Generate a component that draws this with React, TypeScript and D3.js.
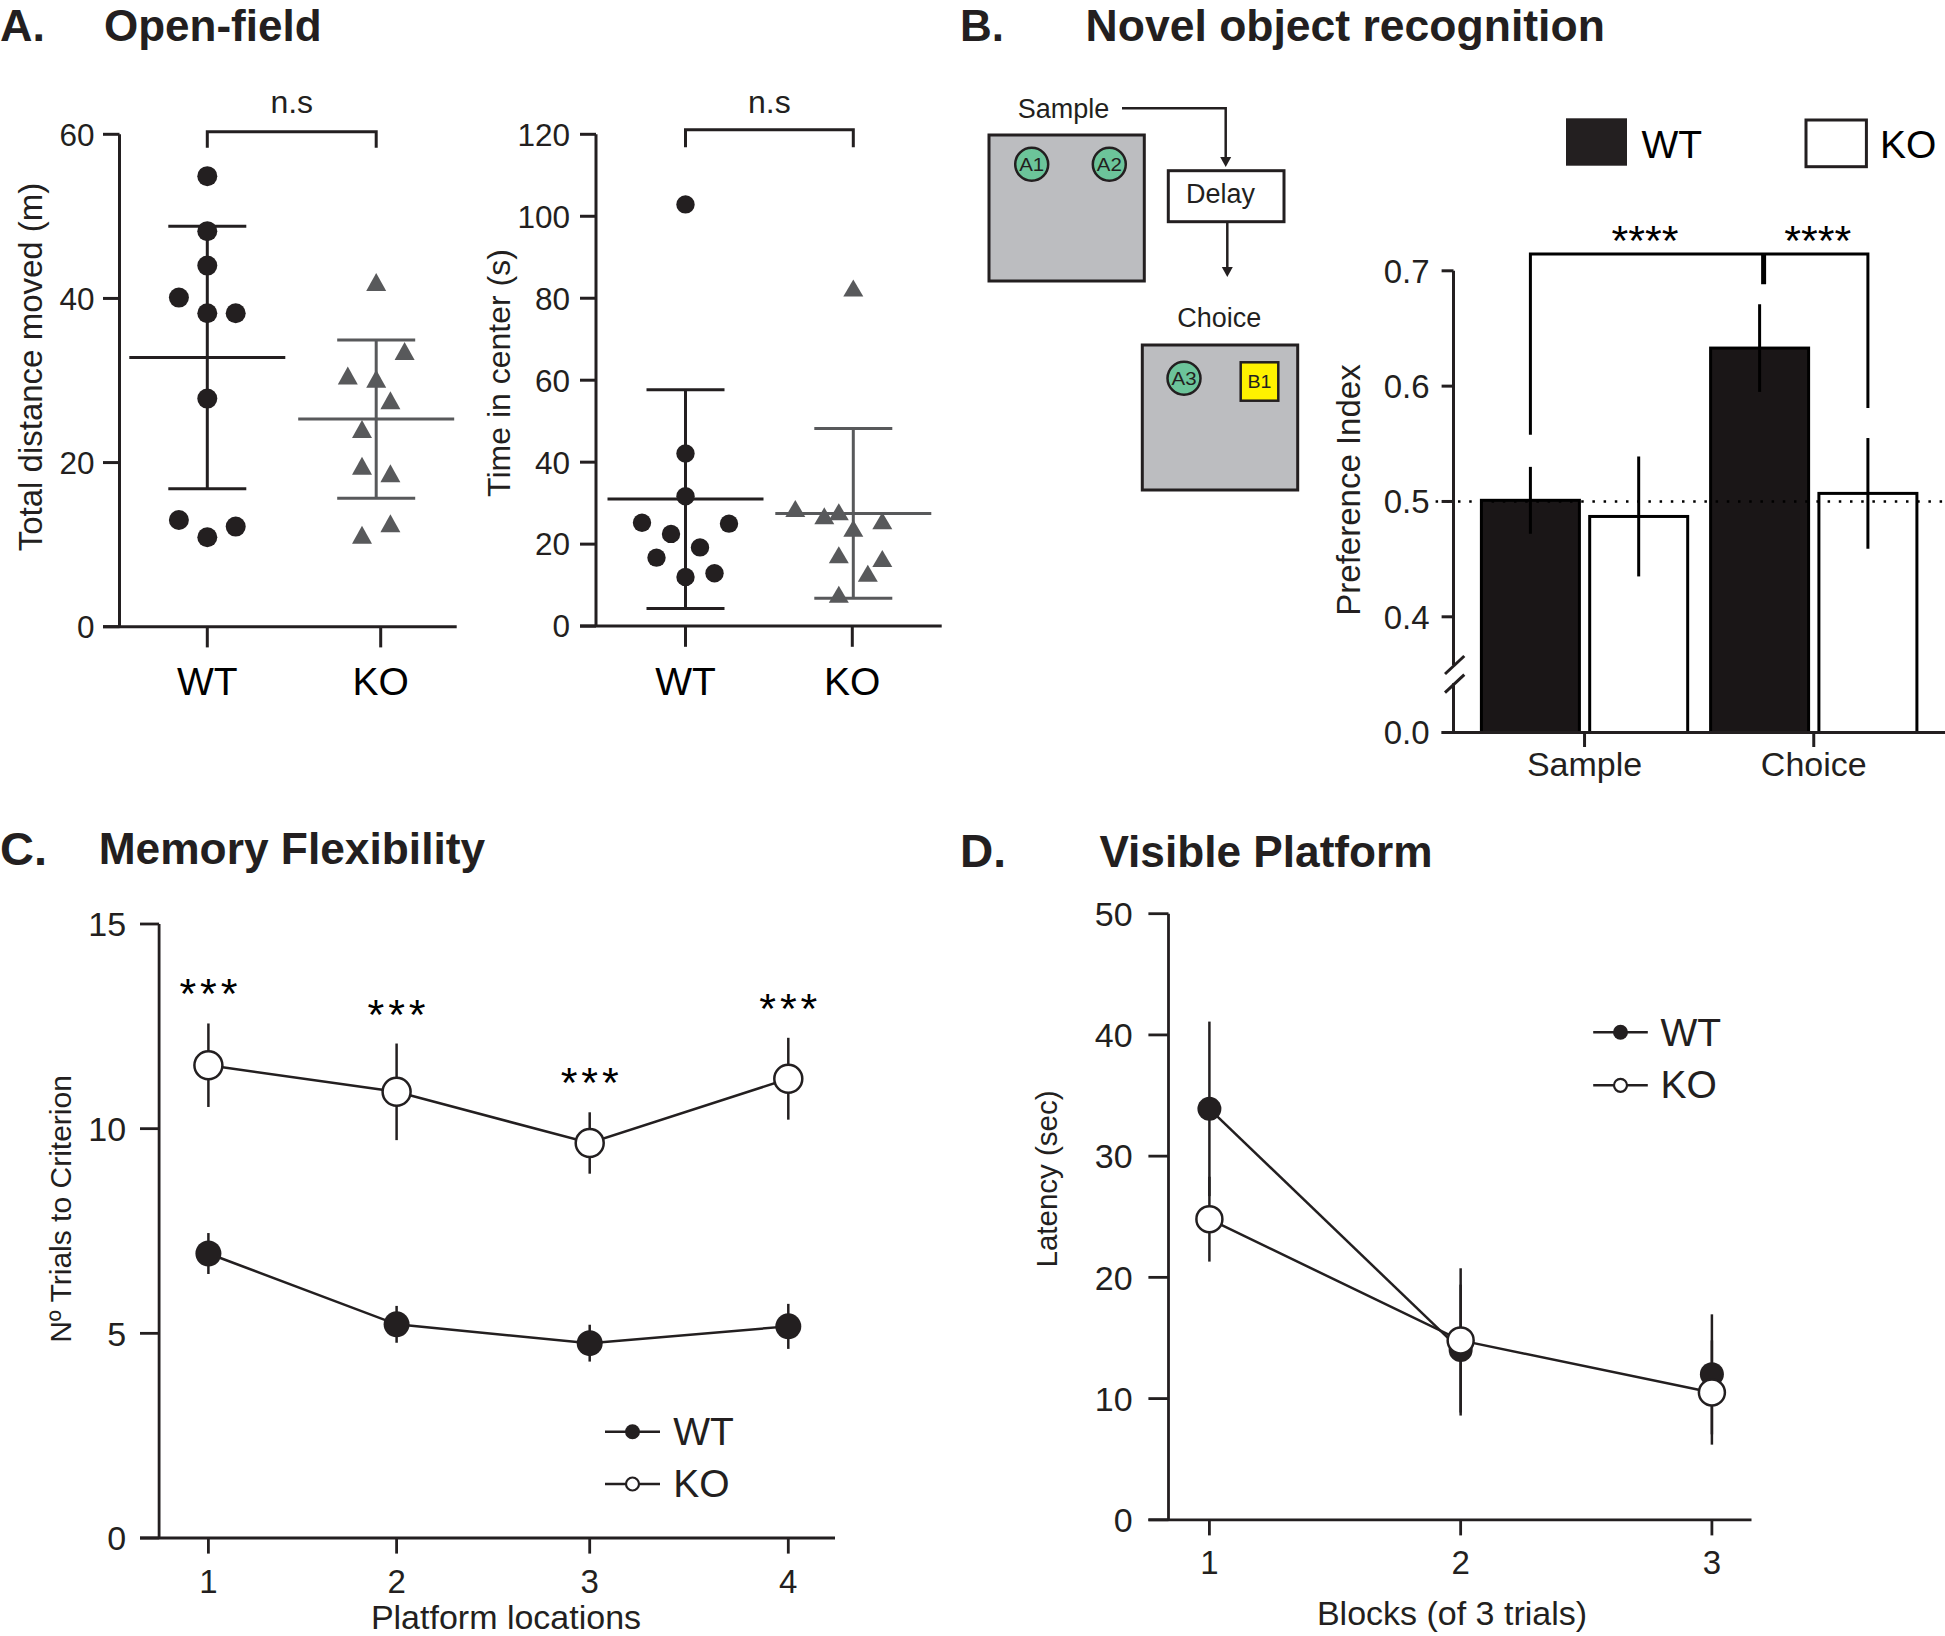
import React from "react";
import * as d3 from "d3";

const FONT = "'Liberation Sans', Arial, Helvetica, sans-serif";
const INK = "#231f20";
const GRAY = "#58595b";

// ---------------- data ----------------
const genotypes = ["WT", "KO"];

// A – open field: total distance moved (m)
const distanceWT = [54.9, 48.2, 44.0, 40.1, 38.2, 38.2, 27.8, 13.0, 10.9, 12.2];
const distanceWTCol = [0, 0, 0, -2, 0, 2, 0, -2, 0, 2];
const distanceKO = [42.0, 33.6, 30.6, 30.2, 27.6, 24.1, 19.6, 18.7, 12.6, 11.2];
const distanceKOCol = [0, 2, -2, 0, 1, -1, -1, 1, 1, -1];
const distanceMean = [32.8, 25.3];
const distanceSD = [16.0, 9.65];
const distanceTicks = [0, 20, 40, 60];

// A – open field: time in center (s)
const centerWT = [102.9, 42.1, 31.7, 25.2, 25.0, 22.5, 19.2, 16.7, 12.0, 12.9];
const centerWTCol = [0, 0, 0, -3, 3, -1, 1, -2, 0, 2];
const centerKO = [82.5, 28.7, 26.9, 27.9, 25.7, 23.9, 17.4, 16.5, 12.9, 7.8];
const centerKOCol = [0, -4, -2, -1, 2, 0, -1, 2, 1, -1];
const centerMean = [31.0, 27.5];
const centerSD = [26.7, 20.7];
const centerTicks = [0, 20, 40, 60, 80, 100, 120];

// B – novel object recognition
const phases = ["Sample", "Choice"];
const prefWT = [0.501, 0.633];
const prefWTSem = [0.029, 0.038];
const prefKO = [0.487, 0.507];
const prefKOSem = [0.052, 0.048];
const prefTicks = [0.0, 0.4, 0.5, 0.6, 0.7];
const chanceLevel = 0.5;

// C – memory flexibility
const locations = [1, 2, 3, 4];
const trialsWT = [6.95, 5.22, 4.76, 5.17];
const trialsWTSem = [0.5, 0.45, 0.45, 0.55];
const trialsKO = [11.55, 10.9, 9.65, 11.22];
const trialsKOSem = [1.02, 1.18, 0.75, 1.0];
const trialsTicks = [0, 5, 10, 15];
const trialsSig = ["***", "***", "***", "***"];

// D – visible platform
const blocks = [1, 2, 3];
const latencyWT = [33.9, 14.0, 12.0];
const latencyWTSem = [7.2, 5.4, 4.95];
const latencyKO = [24.8, 14.8, 10.5];
const latencyKOSem = [3.5, 5.95, 4.3];
const latencyWTLinkedBlocks = 2; // the WT connecting line is only drawn over blocks 1–2 in the original
const latencyTicks = [0, 10, 20, 30, 40, 50];

// ---------------- panel A ----------------
function Scatter({ wt, wtCol, ko, koCol, mean, sd, ticks, g }: any) {
  const yMax = ticks[ticks.length - 1];
  const y = d3.scaleLinear().domain([0, yMax]).range([g.y0, g.yTop]);
  const x = d3.scalePoint<string>().domain(genotypes).range([g.xWT, g.xKO]);
  const col = (k: string) => (x(k) as number) + (k === "KO" ? g.koShift : 0);
  const groups = [
    { k: "WT", color: INK },
    { k: "KO", color: GRAY },
  ];
  const sw = 3;
  return (
    <g>
      <text
        transform={`translate(${g.titleX},${g.titleY}) rotate(-90)`}
        textAnchor="middle"
        fontSize={g.titleSize}
        fill={INK}
      >
        {g.title}
      </text>
      <line x1={g.axisX} x2={g.axisX} y1={y(yMax)} y2={y(0)} stroke={INK} strokeWidth={sw} />
      <line x1={g.xLeft} x2={g.xRight} y1={y(0)} y2={y(0)} stroke={INK} strokeWidth={sw} />
      {ticks.map((t: number) => (
        <g key={t}>
          <line x1={g.xLeft} x2={g.axisX} y1={y(t)} y2={y(t)} stroke={INK} strokeWidth={sw} />
          <text x={g.labelRight} y={y(t)} dy="0.36em" textAnchor="end" fontSize={31.5} fill={INK}>
            {t}
          </text>
        </g>
      ))}
      {genotypes.map((k) => (
        <g key={k}>
          <line x1={x(k)} x2={x(k)} y1={y(0)} y2={y(0) + 20.7} stroke={INK} strokeWidth={sw} />
          <text x={x(k)} y={695} textAnchor="middle" fontSize={39} fill="#000">
            {k}
          </text>
        </g>
      ))}
      {groups.map((gr, i) => {
        const cx = col(gr.k);
        const m = mean[i];
        const s = sd[i];
        return (
          <g key={gr.k} stroke={gr.color} strokeWidth={sw}>
            <line x1={cx - 78} x2={cx + 78} y1={y(m)} y2={y(m)} />
            <line x1={cx} x2={cx} y1={y(m + s)} y2={y(m - s)} />
            <line x1={cx - 39} x2={cx + 39} y1={y(m + s)} y2={y(m + s)} />
            <line x1={cx - 39} x2={cx + 39} y1={y(m - s)} y2={y(m - s)} />
          </g>
        );
      })}
      {wt.map((v: number, i: number) => (
        <circle key={"w" + i} cx={col("WT") + wtCol[i] * g.slot} cy={y(v)} r={g.r} fill={INK} />
      ))}
      {ko.map((v: number, i: number) => {
        const cx = col("KO") + koCol[i] * g.slot;
        const cy = y(v);
        const w = g.triW / 2;
        const h = g.triH / 2;
        return (
          <path key={"k" + i} d={`M${cx},${cy - h}L${cx + w},${cy + h}L${cx - w},${cy + h}Z`} fill={GRAY} />
        );
      })}
      <path
        d={`M${col("WT")},${g.bracketY + g.legLen}V${g.bracketY}H${col("KO")}V${g.bracketY + g.legLen}`}
        fill="none"
        stroke={INK}
        strokeWidth={sw}
      />
      <text x={(col("WT") + col("KO")) / 2} y={g.nsY} textAnchor="middle" fontSize={32} fill={INK}>
        n.s
      </text>
    </g>
  );
}

// ---------------- panel B ----------------
function Diagram() {
  const head = (x: number, y: number) => `M${x},${y} l-5.5,-10 l11,0 Z`;
  const green = "#6cc49a";
  return (
    <g stroke={INK}>
      <text x={1017.8} y={118.3} fontSize={27} fill={INK} stroke="none">
        Sample
      </text>
      <path d="M1122,108.3 H1225.7 V158" fill="none" strokeWidth={2.5} />
      <path d={head(1225.7, 167)} fill={INK} stroke="none" />
      <rect x={989} y={135} width={155.3} height={146} fill="#bcbdc0" strokeWidth={3} />
      <circle cx={1031.7} cy={164.3} r={16.5} fill={green} strokeWidth={2.5} />
      <circle cx={1109.3} cy={164.3} r={16.5} fill={green} strokeWidth={2.5} />
      <text x={1031.7} y={164.3} dy="0.36em" textAnchor="middle" fontSize={19} fill={INK} stroke="none" textLength={25} lengthAdjust="spacingAndGlyphs">
        A1
      </text>
      <text x={1109.3} y={164.3} dy="0.36em" textAnchor="middle" fontSize={19} fill={INK} stroke="none" textLength={25} lengthAdjust="spacingAndGlyphs">
        A2
      </text>
      <rect x={1168.3} y={170.7} width={115.7} height={51} fill="#fff" strokeWidth={3} />
      <text x={1186} y={202.7} fontSize={27} fill={INK} stroke="none">
        Delay
      </text>
      <line x1={1227.3} x2={1227.3} y1={222} y2={268} strokeWidth={2.5} />
      <path d={head(1227.3, 277)} fill={INK} stroke="none" />
      <text x={1177.3} y={327} fontSize={27} fill={INK} stroke="none">
        Choice
      </text>
      <rect x={1142.3} y={345} width={155.4} height={145} fill="#bcbdc0" strokeWidth={3} />
      <circle cx={1184} cy={378.3} r={16.5} fill={green} strokeWidth={2.5} />
      <text x={1184} y={378.3} dy="0.36em" textAnchor="middle" fontSize={19} fill={INK} stroke="none" textLength={25} lengthAdjust="spacingAndGlyphs">
        A3
      </text>
      <rect x={1240.7} y={362.3} width={37.6} height={38.4} fill="#fff200" strokeWidth={2.5} />
      <text x={1259.5} y={381.5} dy="0.36em" textAnchor="middle" fontSize={19} fill={INK} stroke="none" textLength={24} lengthAdjust="spacingAndGlyphs">
        B1
      </text>
    </g>
  );
}

function NOR() {
  const y = d3.scaleLinear().domain([0, 0.4, 0.7]).range([732.5, 616.8, 270.8]);
  const x0 = d3.scaleBand<string>().domain(phases).range([1481.4, 1916.9]).paddingInner(0.1).paddingOuter(0);
  const x1 = d3.scaleBand<string>().domain(genotypes).range([0, x0.bandwidth()]).paddingInner(0.095);
  const bw = x1.bandwidth();
  const cxOf = (ph: string, k: string) => (x0(ph) as number) + (x1(k) as number) + bw / 2;
  const axisX = 1453.5;
  const tickL = 1441.6;
  const sw = 3;
  const bars = phases.flatMap((ph, i) => [
    { ph, k: "WT", v: prefWT[i], e: prefWTSem[i] },
    { ph, k: "KO", v: prefKO[i], e: prefKOSem[i] },
  ]);
  const legL = y(prefWT[0] + prefWTSem[0]) - 32;
  const legM = y(prefWT[1] + prefWTSem[1]) - 20;
  const legR = y(prefKO[1] + prefKOSem[1]) - 30;
  const bxL = cxOf("Sample", "WT");
  const bxM = cxOf("Choice", "WT") + 4;
  const bxR = cxOf("Choice", "KO");
  const bY = 254;
  return (
    <g>
      {/* legend */}
      <rect x={1566} y={118.3} width={61} height={47.4} fill={INK} />
      <text x={1641.5} y={158.3} fontSize={39} fill="#000">
        WT
      </text>
      <rect x={1806} y={120} width={60.4} height={46.7} fill="#fff" stroke={INK} strokeWidth={3} />
      <text x={1880} y={158.3} fontSize={39} fill="#000">
        KO
      </text>

      {/* bars */}
      {bars.map((b) => {
        const x = (x0(b.ph) as number) + (x1(b.k) as number);
        return (
          <rect
            key={b.ph + b.k}
            x={x}
            y={y(b.v)}
            width={bw}
            height={y(0) - y(b.v)}
            fill={b.k === "WT" ? "#1a1617" : "#fff"}
            stroke="#000"
            strokeWidth={sw}
          />
        );
      })}
      {bars.map((b) => {
        const cx = cxOf(b.ph, b.k);
        return <line key={"e" + b.ph + b.k} x1={cx} x2={cx} y1={y(b.v + b.e)} y2={y(b.v - b.e)} stroke="#000" strokeWidth={sw} />;
      })}
      {/* chance line */}
      <line x1={1435.6} x2={1945} y1={y(chanceLevel)} y2={y(chanceLevel)} stroke="#000" strokeWidth={2.5} strokeDasharray="2.5 8.7" />

      {/* axes */}
      <line x1={axisX} x2={axisX} y1={y(0.7)} y2={665} stroke={INK} strokeWidth={sw} />
      <line x1={axisX} x2={axisX} y1={683.3} y2={y(0)} stroke={INK} strokeWidth={sw} />
      <line x1={1445} y1={674} x2={1464.3} y2={656} stroke={INK} strokeWidth={sw} />
      <line x1={1445} y1={692.7} x2={1464.3} y2={674.7} stroke={INK} strokeWidth={sw} />
      <line x1={tickL} x2={1945} y1={y(0)} y2={y(0)} stroke={INK} strokeWidth={sw} />
      {prefTicks.map((t) => (
        <g key={t}>
          <line x1={tickL} x2={axisX} y1={y(t)} y2={y(t)} stroke={INK} strokeWidth={sw} />
          <text x={1429.6} y={y(t)} dy="0.36em" textAnchor="end" fontSize={33} fill={INK}>
            {t.toFixed(1)}
          </text>
        </g>
      ))}
      {phases.map((ph) => {
        const cx = (x0(ph) as number) + x0.bandwidth() / 2;
        return (
          <g key={ph}>
            <line x1={cx} x2={cx} y1={y(0)} y2={747} stroke={INK} strokeWidth={sw} />
            <text x={cx} y={776} textAnchor="middle" fontSize={34} fill={INK}>
              {ph}
            </text>
          </g>
        );
      })}
      <text transform="translate(1360,490) rotate(-90)" textAnchor="middle" fontSize={33} fill={INK}>
        Preference Index
      </text>

      {/* significance */}
      <path d={`M${bxL},${legL}V${bY}H${bxR}V${legR}`} fill="none" stroke="#000" strokeWidth={sw} />
      <line x1={bxM} x2={bxM} y1={bY} y2={legM} stroke="#000" strokeWidth={5} />
      <text x={(bxL + bxM) / 2 - 2} y={255} textAnchor="middle" fontSize={43} fill="#000">
        ****
      </text>
      <text x={(bxM + bxR) / 2 + 2} y={255} textAnchor="middle" fontSize={43} fill="#000">
        ****
      </text>
    </g>
  );
}

// ---------------- panels C & D ----------------
function LineLegend({ x0, x1, yWT, yKO, textX, bWT, bKO }: any) {
  const cx = (x0 + x1) / 2;
  return (
    <g>
      <line x1={x0} x2={x1} y1={yWT} y2={yWT} stroke={INK} strokeWidth={2.5} />
      <circle cx={cx} cy={yWT} r={7.5} fill={INK} />
      <text x={textX} y={bWT} fontSize={39} fill={INK}>
        WT
      </text>
      <line x1={x0} x2={x1} y1={yKO} y2={yKO} stroke={INK} strokeWidth={2.5} />
      <circle cx={cx} cy={yKO} r={6.5} fill="#fff" stroke={INK} strokeWidth={2.2} />
      <text x={textX} y={bKO} fontSize={39} fill={INK}>
        KO
      </text>
    </g>
  );
}

function Flex() {
  // the original axis spaces the four locations slightly unevenly
  const x = d3.scaleLinear().domain(locations).range([208.4, 396.6, 589.7, 788.3]);
  const y = d3.scaleLinear().domain([0, 15]).range([1538, 924]);
  const line = d3
    .line<number>()
    .x((_, i) => x(locations[i]))
    .y((d) => y(d));
  const axisX = 159.1;
  const sw = 2.8;
  return (
    <g>
      <line x1={axisX} x2={axisX} y1={y(15)} y2={y(0)} stroke={INK} strokeWidth={sw} />
      <line x1={140} x2={835} y1={y(0)} y2={y(0)} stroke={INK} strokeWidth={sw} />
      {trialsTicks.map((t) => (
        <g key={t}>
          <line x1={140} x2={axisX} y1={y(t)} y2={y(t)} stroke={INK} strokeWidth={sw} />
          <text x={126.2} y={y(t)} dy="0.36em" textAnchor="end" fontSize={34} fill={INK}>
            {t}
          </text>
        </g>
      ))}
      {locations.map((l) => (
        <g key={l}>
          <line x1={x(l)} x2={x(l)} y1={y(0)} y2={1553.6} stroke={INK} strokeWidth={sw} />
          <text x={x(l)} y={1592.6} textAnchor="middle" fontSize={33} fill={INK}>
            {l}
          </text>
        </g>
      ))}
      <text x={506} y={1629} textAnchor="middle" fontSize={34} fill={INK}>
        Platform locations
      </text>
      <text transform="translate(71.3,1209) rotate(-90)" textAnchor="middle" fontSize={30} fill={INK}>
        Nº Trials to Criterion
      </text>

      {/* error bars */}
      {locations.map((l, i) => (
        <g key={"e" + l} stroke={INK} strokeWidth={2.5}>
          <line x1={x(l)} x2={x(l)} y1={y(trialsWT[i] + trialsWTSem[i])} y2={y(trialsWT[i] - trialsWTSem[i])} />
          <line x1={x(l)} x2={x(l)} y1={y(trialsKO[i] + trialsKOSem[i])} y2={y(trialsKO[i] - trialsKOSem[i])} />
        </g>
      ))}
      <path d={line(trialsWT) as string} fill="none" stroke={INK} strokeWidth={2.5} />
      <path d={line(trialsKO) as string} fill="none" stroke={INK} strokeWidth={2.5} />
      {locations.map((l, i) => (
        <circle key={"w" + l} cx={x(l)} cy={y(trialsWT[i])} r={13} fill={INK} />
      ))}
      {locations.map((l, i) => (
        <circle key={"k" + l} cx={x(l)} cy={y(trialsKO[i])} r={14} fill="#fff" stroke={INK} strokeWidth={2.5} />
      ))}
      {locations.map((l, i) => (
        <text
          key={"s" + l}
          x={x(l)}
          y={y(trialsKO[i] + trialsKOSem[i]) - 15}
          textAnchor="middle"
          fontSize={43}
          fill="#000"
          textLength={58}
          lengthAdjust="spacing"
        >
          {trialsSig[i]}
        </text>
      ))}
      <LineLegend x0={605} x1={660} yWT={1431.7} yKO={1484} textX={673.3} bWT={1445} bKO={1496.7} />
    </g>
  );
}

function Visible() {
  const x = d3.scaleLinear().domain([1, 3]).range([1209.4, 1711.9]);
  const y = d3.scaleLinear().domain([0, 50]).range([1519.8, 913.7]);
  const line = d3
    .line<number>()
    .x((_, i) => x(blocks[i]))
    .y((d) => y(d));
  const axisX = 1168.5;
  const sw = 2.8;
  return (
    <g>
      <line x1={axisX} x2={axisX} y1={y(50)} y2={y(0)} stroke={INK} strokeWidth={sw} />
      <line x1={1148.4} x2={1751.5} y1={y(0)} y2={y(0)} stroke={INK} strokeWidth={sw} />
      {latencyTicks.map((t) => (
        <g key={t}>
          <line x1={1148.4} x2={axisX} y1={y(t)} y2={y(t)} stroke={INK} strokeWidth={sw} />
          <text x={1132.7} y={y(t)} dy="0.36em" textAnchor="end" fontSize={34} fill={INK}>
            {t}
          </text>
        </g>
      ))}
      {blocks.map((b) => (
        <g key={b}>
          <line x1={x(b)} x2={x(b)} y1={y(0)} y2={1535.4} stroke={INK} strokeWidth={sw} />
          <text x={x(b)} y={1574.4} textAnchor="middle" fontSize={33} fill={INK}>
            {b}
          </text>
        </g>
      ))}
      <text x={1452} y={1625} textAnchor="middle" fontSize={34} fill={INK}>
        Blocks (of 3 trials)
      </text>
      <text transform="translate(1057.4,1179) rotate(-90)" textAnchor="middle" fontSize={29.5} fill={INK}>
        Latency (sec)
      </text>

      {blocks.map((b, i) => (
        <g key={"e" + b} stroke={INK} strokeWidth={2.5}>
          <line x1={x(b)} x2={x(b)} y1={y(latencyWT[i] + latencyWTSem[i])} y2={y(latencyWT[i] - latencyWTSem[i])} />
          <line x1={x(b)} x2={x(b)} y1={y(latencyKO[i] + latencyKOSem[i])} y2={y(latencyKO[i] - latencyKOSem[i])} />
        </g>
      ))}
      <path d={line(latencyWT.slice(0, latencyWTLinkedBlocks)) as string} fill="none" stroke={INK} strokeWidth={2.5} />
      <path d={line(latencyKO) as string} fill="none" stroke={INK} strokeWidth={2.5} />
      {blocks.map((b, i) => (
        <circle key={"w" + b} cx={x(b)} cy={y(latencyWT[i])} r={12} fill={INK} />
      ))}
      {blocks.map((b, i) => (
        <circle key={"k" + b} cx={x(b)} cy={y(latencyKO[i])} r={13} fill="#fff" stroke={INK} strokeWidth={2.5} />
      ))}
      <LineLegend x0={1593.2} x1={1647.8} yWT={1032.3} yKO={1085.3} textX={1660.4} bWT={1046} bKO={1098} />
    </g>
  );
}

// ---------------- app ----------------
export default function App() {
  const a1 = {
    axisX: 119.5, xLeft: 103, xRight: 456.7, y0: 626.7, yTop: 134.3,
    xWT: 207.3, xKO: 380.7, koShift: -4.5, slot: 14.2, r: 10, triW: 20, triH: 18,
    bracketY: 131.8, legLen: 16, nsY: 112.5, labelRight: 94.5,
    title: "Total distance moved (m)", titleX: 42, titleY: 367, titleSize: 33,
  };
  const a2 = {
    axisX: 596, xLeft: 580, xRight: 941.7, y0: 626.1, yTop: 134.3,
    xWT: 685.5, xKO: 852.3, koShift: 1, slot: 14.5, r: 9.2, triW: 20, triH: 17,
    bracketY: 129.8, legLen: 17.5, nsY: 112.7, labelRight: 570,
    title: "Time in center (s)", titleX: 510, titleY: 373, titleSize: 32,
  };
  return (
    <svg
      width={1945}
      height={1636}
      viewBox="0 0 1945 1636"
      style={{ position: "absolute", left: 0, top: 0, display: "block", background: "#fff" }}
      fontFamily={FONT}
    >
      <rect width={1945} height={1636} fill="#fff" />
      {/* titles */}
      <g fontWeight="bold" fill={INK}>
        <text x={0} y={41} fontSize={45}>A.</text>
        <text x={104} y={40.5} fontSize={44}>Open-field</text>
        <text x={960} y={40.5} fontSize={44}>B.</text>
        <text x={1085.6} y={41} fontSize={44.5}>Novel object recognition</text>
        <text x={0} y={865} fontSize={47}>C.</text>
        <text x={98.7} y={864} fontSize={44.3}>Memory Flexibility</text>
        <text x={960} y={867} fontSize={46}>D.</text>
        <text x={1099.4} y={867} fontSize={44.2}>Visible Platform</text>
      </g>
      <Scatter wt={distanceWT} wtCol={distanceWTCol} ko={distanceKO} koCol={distanceKOCol} mean={distanceMean} sd={distanceSD} ticks={distanceTicks} g={a1} />
      <Scatter wt={centerWT} wtCol={centerWTCol} ko={centerKO} koCol={centerKOCol} mean={centerMean} sd={centerSD} ticks={centerTicks} g={a2} />
      <Diagram />
      <NOR />
      <Flex />
      <Visible />
    </svg>
  );
}
